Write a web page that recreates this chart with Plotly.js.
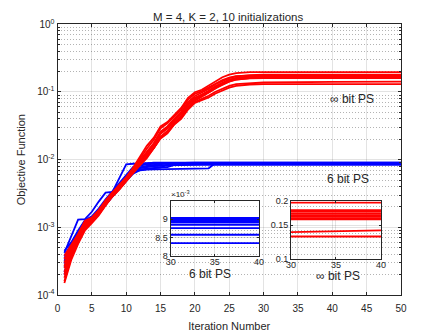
<!DOCTYPE html>
<html>
<head>
<meta charset="utf-8">
<script src="https://cdn.plot.ly/plotly-3.0.1.min.js"></script>
<style>body{margin:0;background:#fff}#myDiv{width:443px;height:332px}</style>
</head>
<body>
<div id="myDiv"></div>
<script>
// iteration numbers (curves are flat after ~28)
var iters = [1,2,3,4,5,6,7,8,9,10,11,12,13,14,15,16,17,18,19,20,21,22,23,24,25,26,28,30,40,50];

// infinite-resolution phase shifters (red)
var red1 = [3.8e-4,5.6e-4,8.0e-4,1.25e-3,1.4e-3,1.8e-3,2.5e-3,3.3e-3,4.2e-3,5.5e-3,7.6e-3,1.1e-2,1.6e-2,2.1e-2,3.1e-2,3.6e-2,4.6e-2,5.8e-2,8.2e-2,9.9e-2,0.108,0.125,0.145,0.165,0.180,0.190,0.196,0.197,0.197,0.197];
var red2 = [3.0e-4,5.0e-4,7.4e-4,1.15e-3,1.35e-3,1.7e-3,2.4e-3,3.2e-3,4.0e-3,5.3e-3,7.1e-3,9.8e-3,1.3e-2,1.75e-2,2.6e-2,3.1e-2,4.0e-2,5.1e-2,7.1e-2,8.7e-2,0.098,0.111,0.130,0.146,0.160,0.170,0.178,0.180,0.180,0.180];
var red3 = [2.2e-4,4.2e-4,6.6e-4,1.05e-3,1.25e-3,1.6e-3,2.2e-3,3.0e-3,3.8e-3,5.0e-3,6.8e-3,9.3e-3,1.23e-2,1.65e-2,2.45e-2,2.9e-2,3.8e-2,4.8e-2,6.6e-2,8.1e-2,0.092,0.104,0.122,0.138,0.152,0.162,0.170,0.172,0.172,0.172];
var red4 = [1.6e-4,3.6e-4,6.0e-4,9.5e-4,1.2e-3,1.55e-3,2.15e-3,2.9e-3,3.7e-3,4.9e-3,6.5e-3,8.6e-3,1.12e-2,1.5e-2,2.2e-2,2.65e-2,3.5e-2,4.4e-2,6.1e-2,7.6e-2,0.087,0.100,0.118,0.134,0.148,0.158,0.166,0.169,0.169,0.169];
var red5 = [2.7e-4,4.8e-4,7.1e-4,1.12e-3,1.32e-3,1.68e-3,2.3e-3,3.1e-3,3.9e-3,5.1e-3,6.9e-3,9.4e-3,1.25e-2,1.68e-2,2.5e-2,3.0e-2,3.85e-2,4.85e-2,6.7e-2,8.2e-2,0.091,0.102,0.119,0.134,0.147,0.157,0.164,0.166,0.166,0.166];
var red6 = [1.5e-4,3.3e-4,5.7e-4,9.0e-4,1.15e-3,1.5e-3,2.1e-3,2.85e-3,3.6e-3,4.8e-3,6.4e-3,8.4e-3,1.1e-2,1.48e-2,2.15e-2,2.6e-2,3.4e-2,4.3e-2,5.9e-2,7.4e-2,0.085,0.097,0.114,0.130,0.143,0.153,0.160,0.163,0.163,0.163];
var red7 = [2.0e-4,4.0e-4,6.4e-4,1.02e-3,1.22e-3,1.58e-3,2.2e-3,3.0e-3,3.8e-3,5.0e-3,6.7e-3,9.2e-3,1.22e-2,1.64e-2,2.42e-2,2.9e-2,3.75e-2,4.75e-2,6.5e-2,7.9e-2,0.088,0.098,0.114,0.129,0.142,0.152,0.159,0.161,0.161,0.161];
var red8 = [3.4e-4,5.3e-4,7.7e-4,1.2e-3,1.38e-3,1.75e-3,2.45e-3,3.25e-3,4.1e-3,5.4e-3,7.4e-3,1.05e-2,1.45e-2,1.95e-2,2.9e-2,3.45e-2,4.4e-2,5.5e-2,7.7e-2,9.4e-2,0.103,0.116,0.134,0.150,0.163,0.171,0.175,0.176,0.176,0.176];
var red9 = [1.8e-4,3.8e-4,6.2e-4,1.0e-3,1.2e-3,1.55e-3,2.15e-3,2.9e-3,3.7e-3,4.85e-3,6.3e-3,8.3e-3,1.08e-2,1.47e-2,2.1e-2,2.5e-2,3.35e-2,4.15e-2,5.7e-2,7.1e-2,0.079,0.088,0.101,0.113,0.123,0.131,0.136,0.138,0.141,0.142];
var red10 = [2.5e-4,4.4e-4,6.8e-4,1.08e-3,1.28e-3,1.62e-3,2.25e-3,3.0e-3,3.8e-3,4.95e-3,6.3e-3,8.2e-3,1.05e-2,1.45e-2,2.05e-2,2.45e-2,3.3e-2,4.0e-2,5.5e-2,6.9e-2,0.076,0.083,0.095,0.106,0.116,0.123,0.129,0.131,0.131,0.131];

// 6 bit phase shifters (blue)
var blue1 = [4.2e-4,7.5e-4,1.3e-3,1.32e-3,1.7e-3,2.4e-3,3.25e-3,3.35e-3,5.4e-3,8.5e-3,8.7e-3,8.8e-3,8.85e-3,8.85e-3,8.85e-3,8.85e-3,8.85e-3,8.85e-3,8.85e-3,8.85e-3,8.85e-3,8.85e-3,8.85e-3,8.85e-3,8.85e-3,8.85e-3,8.85e-3,8.85e-3,8.85e-3,8.85e-3];
var blue2 = [3.5e-4,5.5e-4,8.0e-4,1.2e-3,1.35e-3,1.75e-3,2.4e-3,3.2e-3,4.0e-3,5.2e-3,7.0e-3,8.6e-3,8.9e-3,9.0e-3,9.04e-3,9.04e-3,9.04e-3,9.04e-3,9.04e-3,9.04e-3,9.04e-3,9.04e-3,9.04e-3,9.04e-3,9.04e-3,9.04e-3,9.04e-3,9.04e-3,9.04e-3,9.04e-3];
var blue3 = [3.0e-4,5.0e-4,7.5e-4,1.15e-3,1.3e-3,1.7e-3,2.3e-3,3.0e-3,3.8e-3,5.0e-3,6.5e-3,7.5e-3,7.8e-3,8.0e-3,8.1e-3,8.15e-3,8.9e-3,9.0e-3,9.01e-3,9.01e-3,9.01e-3,9.01e-3,9.01e-3,9.01e-3,9.01e-3,9.01e-3,9.01e-3,9.01e-3,9.01e-3,9.01e-3];
var blue4 = [2.6e-4,4.6e-4,7.0e-4,1.1e-3,1.3e-3,1.65e-3,2.25e-3,3.0e-3,3.9e-3,5.3e-3,6.8e-3,7.0e-3,7.1e-3,7.2e-3,7.25e-3,7.3e-3,7.3e-3,7.35e-3,7.35e-3,7.4e-3,7.4e-3,7.45e-3,8.9e-3,8.97e-3,8.99e-3,8.99e-3,8.99e-3,8.99e-3,8.99e-3,8.99e-3];
var blue5 = [3.8e-4,5.8e-4,8.5e-4,1.25e-3,1.4e-3,1.8e-3,2.4e-3,3.2e-3,4.2e-3,5.6e-3,7.2e-3,8.2e-3,8.5e-3,8.7e-3,8.9e-3,8.96e-3,8.96e-3,8.96e-3,8.96e-3,8.96e-3,8.96e-3,8.96e-3,8.96e-3,8.96e-3,8.96e-3,8.96e-3,8.96e-3,8.96e-3,8.96e-3,8.96e-3];
var blue6 = [2.2e-4,4.2e-4,6.5e-4,1.05e-3,1.25e-3,1.6e-3,2.2e-3,2.9e-3,3.7e-3,4.8e-3,6.2e-3,7.0e-3,7.3e-3,7.5e-3,7.6e-3,8.5e-3,8.8e-3,8.9e-3,8.93e-3,8.93e-3,8.93e-3,8.93e-3,8.93e-3,8.93e-3,8.93e-3,8.93e-3,8.93e-3,8.93e-3,8.93e-3,8.93e-3];
var blue7 = [2.9e-4,4.9e-4,7.3e-4,1.12e-3,1.32e-3,1.7e-3,2.3e-3,3.1e-3,4.0e-3,5.4e-3,6.9e-3,7.7e-3,8.1e-3,8.4e-3,8.6e-3,8.7e-3,8.76e-3,8.76e-3,8.76e-3,8.76e-3,8.76e-3,8.76e-3,8.76e-3,8.76e-3,8.76e-3,8.76e-3,8.76e-3,8.76e-3,8.76e-3,8.76e-3];
var blue8 = [3.2e-4,5.2e-4,7.8e-4,1.18e-3,1.36e-3,1.72e-3,2.35e-3,3.1e-3,3.9e-3,5.1e-3,6.6e-3,7.2e-3,7.4e-3,7.6e-3,7.7e-3,7.75e-3,8.4e-3,8.55e-3,8.58e-3,8.58e-3,8.58e-3,8.58e-3,8.58e-3,8.58e-3,8.58e-3,8.58e-3,8.58e-3,8.58e-3,8.58e-3,8.58e-3];
var blue9 = [2.0e-4,4.0e-4,6.3e-4,1.02e-3,1.22e-3,1.58e-3,2.15e-3,2.9e-3,3.8e-3,5.0e-3,6.7e-3,7.6e-3,7.9e-3,8.1e-3,8.25e-3,8.3e-3,8.35e-3,8.35e-3,8.35e-3,8.35e-3,8.35e-3,8.35e-3,8.35e-3,8.35e-3,8.35e-3,8.35e-3,8.35e-3,8.35e-3,8.35e-3,8.35e-3];
var blue10 = [4.5e-4,6.0e-4,9.0e-4,1.28e-3,1.45e-3,1.9e-3,2.6e-3,3.4e-3,4.5e-3,6.0e-3,7.8e-3,8.6e-3,8.8e-3,8.91e-3,8.91e-3,8.91e-3,8.91e-3,8.91e-3,8.91e-3,8.91e-3,8.91e-3,8.91e-3,8.91e-3,8.91e-3,8.91e-3,8.91e-3,8.91e-3,8.91e-3,8.91e-3,8.91e-3];

var reds = [red1,red2,red3,red4,red5,red6,red7,red8,red9,red10];
var blues = [blue1,blue2,blue3,blue4,blue5,blue6,blue7,blue8,blue9,blue10];

var xTicks = [0,5,10,15,20,25,30,35,40,45,50];
var yTicks = [1e-4,1e-3,1e-2,1e-1,1];
var yTickText = ['10<sup>-4</sup>','10<sup>-3</sup>','10<sup>-2</sup>','10<sup>-1</sup>','10<sup>0</sup>'];
var insetXTicks = [30,35,40];
var inset1Ticks = [0.008,0.0085,0.009];
var inset1Text = ['8','8.5','9'];
var inset2Ticks = [0.1,0.15,0.2];
var inset2Text = ['0.1','0.15','0.2'];

var ink = '#262626';
var font = 'Liberation Sans, Arial, sans-serif';

function makeTraces(list, color, xa, ya) {
    return list.map(function (ys) {
        return {
            x: iters, y: ys, xaxis: xa, yaxis: ya,
            type: 'scatter', mode: 'lines',
            line: {color: color, width: 1.8},
            showlegend: false, hoverinfo: 'skip'
        };
    });
}

var data = []
    .concat(makeTraces(blues, 'rgb(0,0,255)', 'x', 'y'))
    .concat(makeTraces(reds, 'rgb(255,0,0)', 'x', 'y'))
    .concat(makeTraces(blues, 'rgb(0,0,255)', 'x2', 'y2'))
    .concat(makeTraces(reds, 'rgb(255,0,0)', 'x3', 'y3'));

// minor log ticks 2..9 in every decade
var minorVals = [];
for (var d = -4; d < 0; d++) {
    for (var k = 2; k <= 9; k++) minorVals.push(k * Math.pow(10, d));
}

var baseAxis = {
    showline: true, linecolor: ink, linewidth: 1, mirror: 'ticks',
    ticks: 'inside', tickcolor: ink, zeroline: false,
    gridcolor: 'rgba(38,38,38,0.13)',
    tickfont: {family: font, size: 10, color: ink}
};
function ax(extra) { return Object.assign({}, baseAxis, extra); }
var smallFont = {family: font, size: 9, color: ink};

function label(text, px, py, size) {
    return {text: text, xref: 'paper', yref: 'paper', x: px / 443, y: 1 - py / 332,
            xanchor: 'center', yanchor: 'middle', showarrow: false,
            font: {family: font, size: size, color: ink}};
}

var layout = {
    width: 443, height: 332,
    margin: {l: 0, r: 0, t: 0, b: 0},
    paper_bgcolor: '#fff', plot_bgcolor: 'rgba(0,0,0,0)',
    font: {family: font, color: ink},
    title: {text: 'M = 4, K = 2, 10 initializations', font: {size: 11.5, color: ink},
            xref: 'paper', yref: 'container', x: 0.515, xanchor: 'center', y: 1 - 17 / 332, yanchor: 'middle'},
    xaxis: ax({domain: [0.1298, 0.9052], anchor: 'y', range: [0, 50],
               tickmode: 'array', tickvals: xTicks, ticklen: 3, ticklabelstandoff: 4,
               title: {text: 'Iteration Number', font: {size: 11, color: ink}}}),
    yaxis: ax({domain: [0.1114, 0.9268], anchor: 'x', type: 'log', range: [-4, 0],
               tickmode: 'array', tickvals: yTicks, ticktext: yTickText, ticklen: 3,
               minor: {tickmode: 'array', tickvals: minorVals, ticks: 'inside', ticklen: 2,
                       tickcolor: ink, showgrid: true, gridcolor: 'rgba(38,38,38,0.35)', griddash: '1px,2px'},
               title: {text: 'Objective Function', font: {size: 11, color: ink}}}),
    xaxis2: ax({domain: [0.3853, 0.5847], anchor: 'y2', range: [30, 40], ticklabelstandoff: -3,
                tickmode: 'array', tickvals: insetXTicks, ticklen: 2, tickfont: smallFont}),
    yaxis2: ax({domain: [0.2289, 0.3946], anchor: 'x2', range: [0.008, 0.0095],
                tickmode: 'array', tickvals: inset1Ticks, ticktext: inset1Text, ticklen: 2, tickfont: smallFont}),
    xaxis3: ax({domain: [0.6569, 0.8600], anchor: 'y3', range: [30, 40], ticklabelstandoff: -3,
                tickmode: 'array', tickvals: insetXTicks, ticklen: 2, tickfont: smallFont}),
    yaxis3: ax({domain: [0.2199, 0.3937], anchor: 'x3', type: 'log', range: [-1, Math.log10(0.2)],
                tickmode: 'array', tickvals: inset2Ticks, ticktext: inset2Text, ticklen: 2, tickfont: smallFont}),
    annotations: [
        label('\u221E bit PS', 352, 99, 12),
        label('6 bit PS', 348, 179, 12),
        label('6 bit PS', 210, 274, 12),
        label('\u221E bit PS', 338, 276, 12),
        label('\u00D710<sup>-3</sup>', 180, 194, 8)
    ]
};

Plotly.newPlot('myDiv', data, layout, {staticPlot: true});
</script>
</body>
</html>
